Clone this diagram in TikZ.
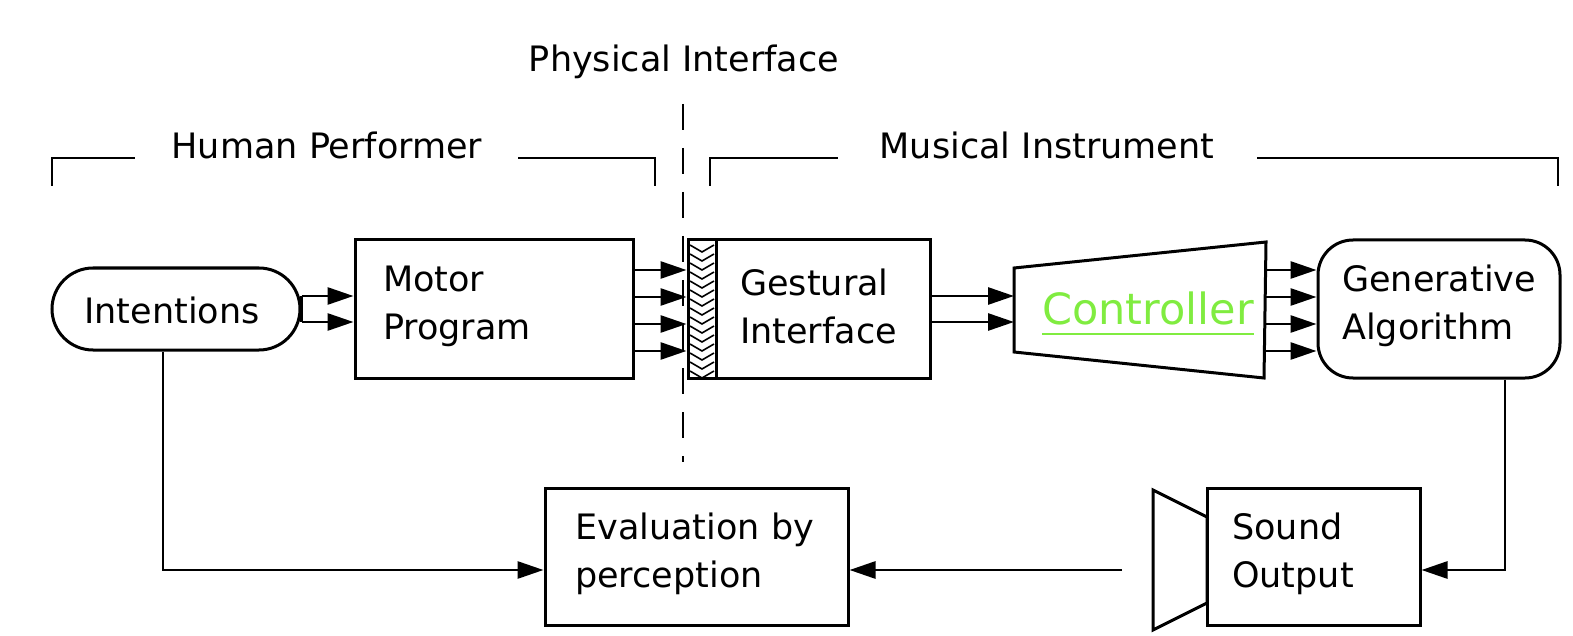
\documentclass[tikz,border=0pt]{standalone}
\usepackage{fontspec}
\setmainfont{DejaVu Sans}
\usetikzlibrary{arrows.meta,calc}
\definecolor{ctlgreen}{RGB}{128,236,64}
\begin{document}
\begin{tikzpicture}[x=1pt,y=-1pt,
  box/.style={draw,line width=3pt,inner sep=0},
  lbl/.style={font=\fontsize{35}{48}\selectfont,inner sep=0,align=left},
  arr/.style={line width=2.8pt,-{Triangle[length=26pt,width=17pt]}},
  ln/.style={line width=3pt},
  br/.style={line width=2.6pt}]
\useasboundingbox (0,0) rectangle (1573,636);

% coordinates for arrow rows
\coordinate (p1) at (0,296);
\coordinate (p2) at (0,322);
\coordinate (q1) at (0,270);
\coordinate (q2) at (0,297);
\coordinate (q3) at (0,324);
\coordinate (q4) at (0,351);
\coordinate (fb) at (0,570);

% titles and brackets
\node[lbl,anchor=center] (phys) at (684,62) {Physical Interface};
\node[lbl,anchor=center] (human) at (327,145) {Human Performer};
\node[lbl,anchor=center] (music) at (1047,145) {Musical Instrument};
\coordinate (hb1) at (52,186);
\coordinate (hb2) at (655,186);
\coordinate (mb1) at (710,186);
\coordinate (mb2) at (1558,186);
\draw[br] (hb1) |- (135,158);
\draw[br] (hb2) |- (518,158);
\draw[br] (mb1) |- (838,158);
\draw[br] (mb2) |- (1257,158);

% dashed physical interface line
\coordinate (d1) at (683,104);
\coordinate (d2) at (683,462);
\draw[line width=2.6pt,dash pattern=on 26pt off 18pt] (d1) -- (d2);

% boxes
\node[box,rounded corners=41pt,minimum width=248pt,minimum height=82pt] (intent) at (176,309) {};
\node[lbl,anchor=center] (intentT) at (172,310) {Intentions};

\node[box,minimum width=278pt,minimum height=138pt] (motor) at (494,309) {};
\node[lbl,anchor=west] (motorT) at (383,306) {Motor\\Program};

\node[box,minimum width=28pt,minimum height=138pt] (hatch) at (702,309) {};
\foreach \yy in {245,254,...,372} {
  \draw[line width=1.6pt] (690,\yy) -- (702,\yy+7) -- (714,\yy);
}

\node[box,minimum width=214pt,minimum height=138pt] (gest) at (823,309) {};
\node[lbl,anchor=west] (gestT) at (740,306) {Gestural\\Interface};

\coordinate (c1) at (1014,268);
\coordinate (c2) at (1266,242);
\coordinate (c3) at (1264,378);
\coordinate (c4) at (1014,352);
\draw[ln] (c1) -- (c2) -- (c3) -- (c4) -- cycle;
\node[font=\fontsize{43}{48}\selectfont,text=ctlgreen,inner sep=0] (ctlT) at (1148,308) {Controller};
\draw[line width=2.5pt,ctlgreen] (ctlT.south west |- 0,334) coordinate (u1) -- (ctlT.south east |- u1);

\node[box,rounded corners=35pt,minimum width=242pt,minimum height=138pt] (gen) at (1439,309) {};
\node[lbl,anchor=west] (genT) at (1342,306) {Generative\\Algorithm};

\node[box,minimum width=303pt,minimum height=137pt] (eval) at (696.5,556.5) {};
\node[lbl,anchor=west] (evalT) at (575,554) {Evaluation by\\perception};

\node[box,minimum width=213pt,minimum height=137pt] (sound) at (1313.5,556.5) {};
\node[lbl,anchor=west] (soundT) at (1232,554) {Sound\\Output};

% speaker
\coordinate (s1) at (1153,490);
\coordinate (s2) at (1207,517);
\coordinate (s3) at (1207,603);
\coordinate (s4) at (1153,630);
\draw[ln] (s1) -- (s2) -- (s3) -- (s4) -- cycle;
\coordinate (spk) at (1122,570);

% arrows intentions -> motor
\draw[ln] (intent.east |- p1) -- (intent.east |- p2);
\foreach \r in {p1,p2} \draw[arr] (intent.east |- \r) -- (motor.west |- \r);
% motor -> physical interface
\foreach \r in {q1,q2,q3,q4} \draw[arr] (motor.east |- \r) -- (hatch.west |- \r);
% gestural -> controller
\foreach \r in {p1,p2} \draw[arr] (gest.east |- \r) -- (c1 |- \r);
% controller -> generative
\foreach \r in {q1,q2,q3,q4} \draw[arr] (c2 |- \r) -- (gen.west |- \r);

% feedback paths
\coordinate (g1) at (1505,0);
\draw[arr] (gen.south -| g1) |- (sound.east |- fb);
\draw[arr] (spk) -- (eval.east |- fb);
\coordinate (i1) at (163,0);
\draw[arr] (intent.south -| i1) |- (eval.west |- fb);
\end{tikzpicture}
\end{document}
